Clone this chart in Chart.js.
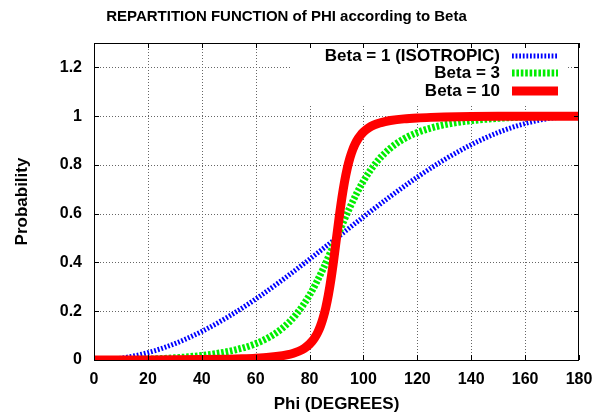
<!DOCTYPE html>
<html><head><meta charset="utf-8">
<script src="https://cdn.jsdelivr.net/npm/chart.js@4/dist/chart.umd.min.js"></script>
<style>html,body{margin:0;padding:0;background:#fff}canvas{display:block}</style>
</head><body>
<canvas id="c" width="612" height="419"></canvas>
<script>
const chartTitle = 'REPARTITION FUNCTION of PHI according to Beta';
const xTitle = 'Phi (DEGREES)';
const yTitle = 'Probability';
const xTicks = [0,20,40,60,80,100,120,140,160,180];
const xTickLabels = ['0','20','40','60','80','100','120','140','160','180'];
const yTicks = [0,0.2,0.4,0.6,0.8,1,1.2];
const yTickLabels = ['0','0.2','0.4','0.6','0.8','1','1.2'];
const seriesLabels = ['Beta = 1 (ISOTROPIC)','Beta = 3','Beta = 10'];
const seriesColors = ['#0000ff','#00ee00','#ff0000'];

const phiBeta1 = [0,10,20,30,40,50,60,70,80,90,100,110,120,130,140,150,160,170,180];
const probBeta1 = [0,0.0076,0.0302,0.0670,0.1170,0.1786,0.25,0.3290,0.4132,0.5,0.5868,0.6710,0.75,0.8214,0.8830,0.9330,0.9698,0.9924,1];

const phiBeta3 = [0,5,10,15,20,25,30,35,40,45,50,55,60,65,70,75,80,85,90,95,100,105,110,115,120,125,130,135,140,145,150,155,160,165,170,175,180];
const probBeta3 = [0,0.0002,0.0009,0.0020,0.0036,0.0059,0.0090,0.0131,0.0185,0.0257,0.0353,0.0486,0.0670,0.0932,0.1313,0.1867,0.2662,0.3731,0.5,0.6269,0.7338,0.8133,0.8687,0.9068,0.9330,0.9514,0.9647,0.9743,0.9815,0.9869,0.9910,0.9941,0.9964,0.9980,0.9991,0.9998,1];

const phiBeta10 = [0,10,20,30,40,50,55,60,65,70,72,74,76,78,80,81,82,83,84,85,86,87,88,89,90,91,92,93,94,95,96,97,98,99,100,102,104,106,108,110,115,120,125,130,140,150,160,170,180];
const probBeta10 = [0,0.0001,0.0003,0.0008,0.0018,0.0035,0.0050,0.0073,0.0111,0.0179,0.0221,0.0279,0.0359,0.0476,0.0651,0.0772,0.0926,0.1123,0.1378,0.1708,0.2135,0.2679,0.3352,0.4140,0.5,0.5860,0.6648,0.7321,0.7865,0.8292,0.8622,0.8877,0.9074,0.9228,0.9349,0.9524,0.9641,0.9721,0.9779,0.9821,0.9889,0.9927,0.9950,0.9965,0.9982,0.9992,0.9997,0.9999,1];

const FONT = "'Liberation Sans', Arial, Helvetica, sans-serif";
const pts = (xs, ys) => xs.map((x, i) => ({x: x, y: ys[i]}));
const lineStyles = [
  {width: 5, dash: [1.8, 1.8]},
  {width: 7, dash: [2.6, 1.8]},
  {width: 9, dash: []}
];

const decor = {
  id: 'decor',
  beforeDatasetsDraw(chart) {
    const {ctx, chartArea: {left, right, top, bottom}, scales: {x, y}} = chart;
    ctx.save();
    ctx.strokeStyle = '#666';
    ctx.lineWidth = 1;
    ctx.setLineDash([1, 2]);
    xTicks.forEach(v => {
      if (v === 0 || v === 180) return;
      const px = Math.round(x.getPixelForValue(v)) + 0.5;
      ctx.beginPath(); ctx.moveTo(px, top); ctx.lineTo(px, bottom); ctx.stroke();
    });
    yTicks.forEach(v => {
      if (v === 0) return;
      const py = Math.round(y.getPixelForValue(v)) + 0.5;
      ctx.beginPath(); ctx.moveTo(left, py); ctx.lineTo(right, py); ctx.stroke();
    });
    ctx.setLineDash([]);
    ctx.fillStyle = '#fff';
    ctx.fillRect(right - 287, top + 1, 276, 62);
    ctx.restore();
  },
  afterDatasetsDraw(chart) {
    const {ctx, chartArea: {left, right, top, bottom}, scales: {x, y}} = chart;
    ctx.save();
    ctx.strokeStyle = '#000';
    ctx.lineWidth = 1;
    const tl = 5;
    xTicks.forEach(v => {
      const px = Math.round(x.getPixelForValue(v)) + 0.5;
      ctx.beginPath();
      ctx.moveTo(px, bottom); ctx.lineTo(px, bottom - tl);
      ctx.moveTo(px, top); ctx.lineTo(px, top + tl);
      ctx.stroke();
    });
    yTicks.forEach(v => {
      const py = Math.round(y.getPixelForValue(v)) + 0.5;
      ctx.beginPath();
      ctx.moveTo(left, py); ctx.lineTo(left + tl, py);
      ctx.moveTo(right, py); ctx.lineTo(right - tl, py);
      ctx.stroke();
    });
    ctx.strokeRect(Math.round(left) + 0.5, Math.round(top) + 0.5, Math.round(right - left) - 1, Math.round(bottom - top));
    // legend
    ctx.font = 'bold 17px ' + FONT;
    ctx.textAlign = 'right';
    ctx.textBaseline = 'middle';
    ctx.fillStyle = '#000';
    const rows = [top + 13, top + 30, top + 48];
    seriesLabels.forEach((lab, i) => {
      const ry = rows[i];
      ctx.fillText(lab, right - 79, ry);
      ctx.save();
      ctx.strokeStyle = seriesColors[i];
      ctx.lineWidth = lineStyles[i].width;
      ctx.setLineDash(lineStyles[i].dash);
      ctx.lineCap = 'butt';
      ctx.beginPath(); ctx.moveTo(right - 67, ry); ctx.lineTo(right - 21, ry); ctx.stroke();
      ctx.restore();
    });
    // title
    ctx.font = 'bold 15px ' + FONT;
    ctx.textAlign = 'center';
    ctx.fillText(chartTitle, 286.5, 17);
    ctx.restore();
  }
};

new Chart(document.getElementById('c'), {
  type: 'line',
  data: {
    datasets: [
      {label: seriesLabels[0], data: pts(phiBeta1, probBeta1), borderColor: seriesColors[0], borderWidth: lineStyles[0].width, borderDash: lineStyles[0].dash, order: 3},
      {label: seriesLabels[1], data: pts(phiBeta3, probBeta3), borderColor: seriesColors[1], borderWidth: lineStyles[1].width, borderDash: lineStyles[1].dash, order: 2},
      {label: seriesLabels[2], data: pts(phiBeta10, probBeta10), borderColor: seriesColors[2], borderWidth: lineStyles[2].width, borderDash: lineStyles[2].dash, order: 1}
    ].map(d => Object.assign(d, {pointRadius: 0, fill: false, cubicInterpolationMode: 'monotone', borderCapStyle: 'butt', borderJoinStyle: 'round'}))
  },
  options: {
    responsive: false,
    animation: false,
    devicePixelRatio: 1,
    layout: {padding: {top: 43, right: 33, left: 0, bottom: 0}},
    plugins: {legend: {display: false}, title: {display: false}, tooltip: {enabled: false}},
    scales: {
      x: {
        type: 'linear', min: 0, max: 180,
        afterBuildTicks: s => { s.ticks = xTicks.map(v => ({value: v})); },
        afterFit: s => { s.height = 59; },
        grid: {display: false, drawTicks: false},
        border: {display: false},
        ticks: {color: '#000', font: {family: FONT, size: 16, weight: 'bold'}, padding: 10, maxRotation: 0, autoSkip: false,
          callback: (v, i) => xTickLabels[i]},
        title: {display: true, text: xTitle, color: '#000', font: {family: FONT, size: 17, weight: 'bold'}, padding: {top: 4, bottom: 4}}
      },
      y: {
        type: 'linear', min: 0, max: 1.3,
        afterBuildTicks: s => { s.ticks = yTicks.map(v => ({value: v})); },
        afterFit: s => { s.width = 94; },
        grid: {display: false, drawTicks: false},
        border: {display: false},
        ticks: {color: '#000', font: {family: FONT, size: 16, weight: 'bold'}, padding: 12, autoSkip: false,
          callback: (v, i) => yTickLabels[i]},
        title: {display: true, text: yTitle, color: '#000', font: {family: FONT, size: 17, weight: 'bold'}, padding: {top: 12, bottom: 4}}
      }
    }
  },
  plugins: [decor]
});
</script>
</body></html>
